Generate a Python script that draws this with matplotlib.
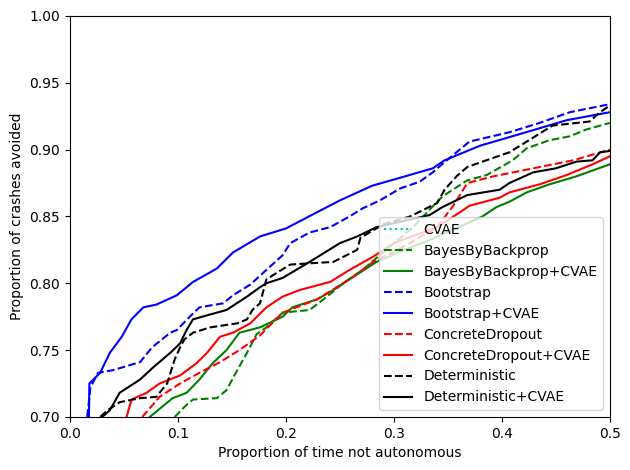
"""Доля предотвращённых аварий vs доля неавтономного времени."""

import matplotlib

matplotlib.use("Agg")
import matplotlib.pyplot as plt

# Кривые (x — доля неавтономного времени, y — доля
# предотвращённых аварий). CVAE в видимой области не появляется.
cvae_x = []
cvae_y = []

bbb_x = [0.097, 0.108, 0.114, 0.136, 0.145, 0.155, 0.164, 0.173, 0.182, 0.197,
         0.222, 0.238, 0.253, 0.271, 0.284, 0.300, 0.318, 0.333, 0.345, 0.368,
         0.386, 0.410, 0.423, 0.444, 0.463, 0.478, 0.500]
bbb_y = [0.700, 0.709, 0.713, 0.714, 0.720, 0.735, 0.748, 0.762, 0.767, 0.778,
         0.780, 0.790, 0.800, 0.810, 0.819, 0.830, 0.842, 0.855, 0.865, 0.877,
         0.881, 0.892, 0.901, 0.907, 0.910, 0.915, 0.920]

bbb_cvae_x = [0.074, 0.095, 0.108, 0.120, 0.132, 0.145, 0.157, 0.176, 0.197,
              0.206, 0.229, 0.244, 0.259, 0.284, 0.310, 0.335, 0.360, 0.382,
              0.395, 0.407, 0.423, 0.444, 0.469, 0.500]
bbb_cvae_y = [0.700, 0.714, 0.718, 0.728, 0.740, 0.750, 0.763, 0.767, 0.775,
              0.782, 0.788, 0.795, 0.803, 0.816, 0.825, 0.833, 0.842, 0.850,
              0.857, 0.861, 0.868, 0.874, 0.880, 0.889]

boot_x = [0.016, 0.019, 0.026, 0.040, 0.065, 0.076, 0.093, 0.099, 0.111, 0.120,
          0.142, 0.151, 0.167, 0.182, 0.197, 0.204, 0.222, 0.241, 0.259, 0.271,
          0.287, 0.306, 0.324, 0.336, 0.349, 0.370, 0.407, 0.435, 0.463, 0.500]
boot_y = [0.700, 0.722, 0.733, 0.735, 0.741, 0.752, 0.763, 0.765, 0.775, 0.782,
          0.785, 0.791, 0.799, 0.810, 0.821, 0.830, 0.838, 0.842, 0.850, 0.856,
          0.862, 0.871, 0.876, 0.883, 0.892, 0.906, 0.913, 0.920, 0.928, 0.934]

boot_cvae_x = [0.0176, 0.018, 0.028, 0.037, 0.048, 0.057, 0.068, 0.080, 0.099,
               0.114, 0.136, 0.151, 0.176, 0.200, 0.250, 0.280, 0.306, 0.336,
               0.347, 0.380, 0.414, 0.460, 0.500]
boot_cvae_y = [0.700, 0.725, 0.733, 0.748, 0.760, 0.773, 0.782, 0.784, 0.791,
               0.801, 0.811, 0.823, 0.835, 0.841, 0.862, 0.873, 0.879, 0.886,
               0.892, 0.903, 0.911, 0.922, 0.928]

cd_x = [0.067, 0.083, 0.102, 0.120, 0.139, 0.157, 0.176, 0.197, 0.229, 0.259,
        0.281, 0.308, 0.340, 0.355, 0.368, 0.392, 0.429, 0.466, 0.500]
cd_y = [0.700, 0.715, 0.725, 0.733, 0.741, 0.750, 0.761, 0.778, 0.788, 0.803,
        0.816, 0.827, 0.842, 0.858, 0.875, 0.880, 0.886, 0.892, 0.900]

cd_cvae_x = [0.0525, 0.057, 0.071, 0.083, 0.102, 0.117, 0.127, 0.139, 0.151,
             0.167, 0.182, 0.197, 0.213, 0.241, 0.259, 0.281, 0.300, 0.340,
             0.361, 0.370, 0.398, 0.407, 0.435, 0.460, 0.484, 0.500]
cd_cvae_y = [0.700, 0.713, 0.718, 0.725, 0.731, 0.740, 0.748, 0.760, 0.763,
             0.770, 0.782, 0.790, 0.795, 0.801, 0.810, 0.820, 0.830, 0.842,
             0.853, 0.858, 0.864, 0.868, 0.874, 0.881, 0.889, 0.895]

det_x = [0.028, 0.035, 0.046, 0.065, 0.080, 0.090, 0.097, 0.102, 0.106, 0.114,
         0.130, 0.155, 0.164, 0.169, 0.176, 0.182, 0.204, 0.244, 0.266, 0.269,
         0.290, 0.315, 0.340, 0.347, 0.358, 0.368, 0.382, 0.407, 0.423, 0.447,
         0.481, 0.491, 0.500]
det_y = [0.700, 0.705, 0.711, 0.714, 0.715, 0.725, 0.743, 0.752, 0.758, 0.763,
         0.767, 0.770, 0.773, 0.780, 0.785, 0.803, 0.814, 0.816, 0.825, 0.834,
         0.844, 0.850, 0.860, 0.870, 0.880, 0.887, 0.891, 0.898, 0.906, 0.918,
         0.921, 0.928, 0.933]

det_cvae_x = [0.030, 0.037, 0.046, 0.065, 0.077, 0.093, 0.102, 0.108, 0.114,
              0.127, 0.145, 0.164, 0.176, 0.182, 0.197, 0.222, 0.250, 0.266,
              0.284, 0.306, 0.333, 0.345, 0.368, 0.398, 0.407, 0.429, 0.450,
              0.469, 0.484, 0.491, 0.500]
det_cvae_y = [0.700, 0.705, 0.718, 0.728, 0.737, 0.748, 0.755, 0.765, 0.773,
              0.776, 0.780, 0.790, 0.797, 0.800, 0.804, 0.816, 0.830, 0.835,
              0.842, 0.846, 0.851, 0.857, 0.866, 0.870, 0.875, 0.883, 0.886,
              0.891, 0.892, 0.898, 0.899]

SERIES = [
    ("CVAE", cvae_x, cvae_y, "c", ":"),
    ("BayesByBackprop", bbb_x, bbb_y, "g", "--"),
    ("BayesByBackprop+CVAE", bbb_cvae_x, bbb_cvae_y, "g", "-"),
    ("Bootstrap", boot_x, boot_y, "b", "--"),
    ("Bootstrap+CVAE", boot_cvae_x, boot_cvae_y, "b", "-"),
    ("ConcreteDropout", cd_x, cd_y, "r", "--"),
    ("ConcreteDropout+CVAE", cd_cvae_x, cd_cvae_y, "r", "-"),
    ("Deterministic", det_x, det_y, "k", "--"),
    ("Deterministic+CVAE", det_cvae_x, det_cvae_y, "k", "-"),
]

fig, ax = plt.subplots(figsize=(6.3, 4.7), dpi=100)
for label, xs, ys, color, ls in SERIES:
    ax.plot(xs, ys, color=color, linestyle=ls, label=label)

ax.set_xlim(0, 0.5)
ax.set_ylim(0.7, 1.0)
ax.set_xlabel("Proportion of time not autonomous")
ax.set_ylabel("Proportion of crashes avoided")
ax.legend(loc="lower right")
# поля подогнаны под оригинал: оси 70..610 px по x, 16..417 px по y
fig.subplots_adjust(left=0.111, right=0.968, bottom=0.113, top=0.966)
fig.savefig("out.png", dpi=100)
